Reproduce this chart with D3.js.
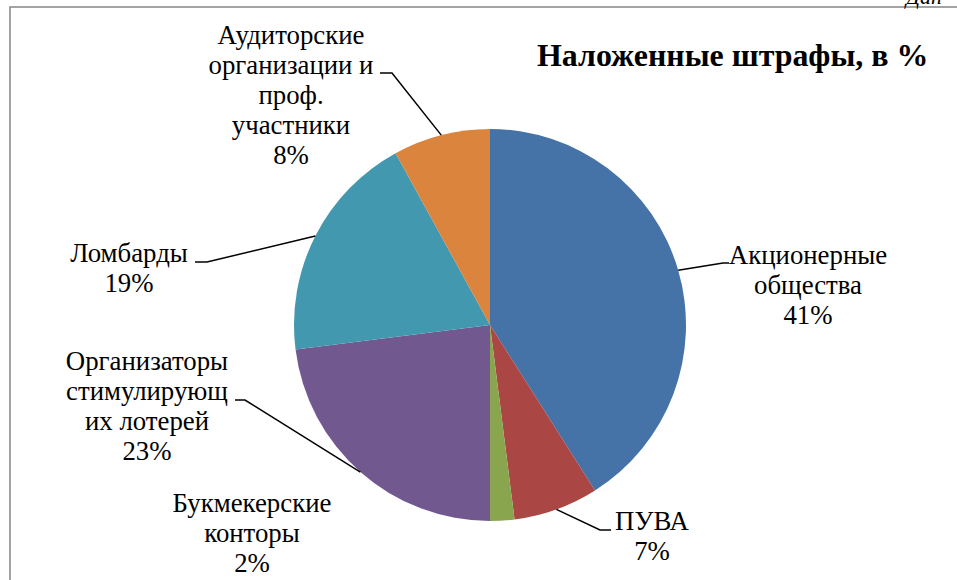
<!DOCTYPE html>
<html><head><meta charset="utf-8">
<script src="https://cdn.jsdelivr.net/npm/d3@7"></script>
<style>html,body{margin:0;padding:0;background:#fff;}svg{display:block;}</style>
</head><body>
<svg id="chart" width="957" height="580"></svg>
<script>
// ---- data ----
const categories = ["Акционерные общества","ПУВА","Букмекерские конторы","Организаторы стимулирующих лотерей","Ломбарды","Аудиторские организации и проф. участники"];
const labelLines = [
  ["Акционерные","общества"],
  ["ПУВА"],
  ["Букмекерские","конторы"],
  ["Организаторы","стимулирующ","их лотерей"],
  ["Ломбарды"],
  ["Аудиторские","организации и","проф.","участники"]
];
const values = [41, 7, 2, 23, 19, 8];
const title = "Наложенные штрафы, в %";

// ---- styles / layout ----
const FONT = '"Liberation Serif", "Times New Roman", serif';
const colors = ["#4572A7","#AA4643","#89A54E","#71588F","#4198AF","#DB843D"];
const cx = 490, cy = 325, R = 196;
const lineH = 30;
const labelLayout = [
  {x:808, y:264, elbow:[723,263], end:[729,263]},
  {x:652, y:530, elbow:[600,530], end:[611,530]},
  {x:252, y:512, elbow:null},
  {x:147, y:370, elbow:[245,400], end:[235,400]},
  {x:129, y:262, elbow:[207,262], end:[195,262]},
  {x:291, y:44,  elbow:[392,73],  end:[380,73]}
];

const svg = d3.select("#chart");
// frame
svg.append("path").attr("d","M10,580 L10,7 L957,7").attr("fill","none")
  .attr("stroke","#868686").attr("stroke-width",1.5);
svg.append("text").attr("x",906).attr("y",4).style("font-family",FONT)
  .attr("font-style","italic").attr("font-size",22).attr("fill","#000").text("Дан");

const pie = d3.pie().sort(null).value(d=>d);
const arcs = pie(values);
const arc = d3.arc().innerRadius(0).outerRadius(R);
const g = svg.append("g").attr("transform",`translate(${cx},${cy})`);
g.selectAll("path.slice").data(arcs).join("path").attr("class","slice")
  .attr("d",arc).attr("fill",(d,i)=>colors[i]);

// leader lines
arcs.forEach((a,i)=>{
  const L = labelLayout[i];
  if(!L.elbow) return;
  const mid = (a.startAngle+a.endAngle)/2;
  const sx = cx + R*Math.sin(mid), sy = cy - R*Math.cos(mid);
  svg.append("polyline")
    .attr("points",[[sx,sy],L.elbow,L.end].map(p=>p.join(",")).join(" "))
    .attr("fill","none").attr("stroke","#000").attr("stroke-width",1.5);
});

// labels
arcs.forEach((a,i)=>{
  const L = labelLayout[i];
  const lines = labelLines[i].concat([Math.round(values[i])+"%"]);
  const t = svg.append("text").style("font-family",FONT)
    .attr("font-size",26.8).attr("fill","#000").attr("text-anchor","middle");
  lines.forEach((ln,k)=>{
    t.append("tspan").attr("x",L.x).attr("y",L.y+k*lineH).style("font-family",FONT).text(ln);
  });
});

// title
svg.append("text").attr("x",537).attr("y",66).style("font-family",FONT)
  .attr("font-weight","bold").attr("font-size",31.9).attr("fill","#000").text(title);
</script>
</body></html>
